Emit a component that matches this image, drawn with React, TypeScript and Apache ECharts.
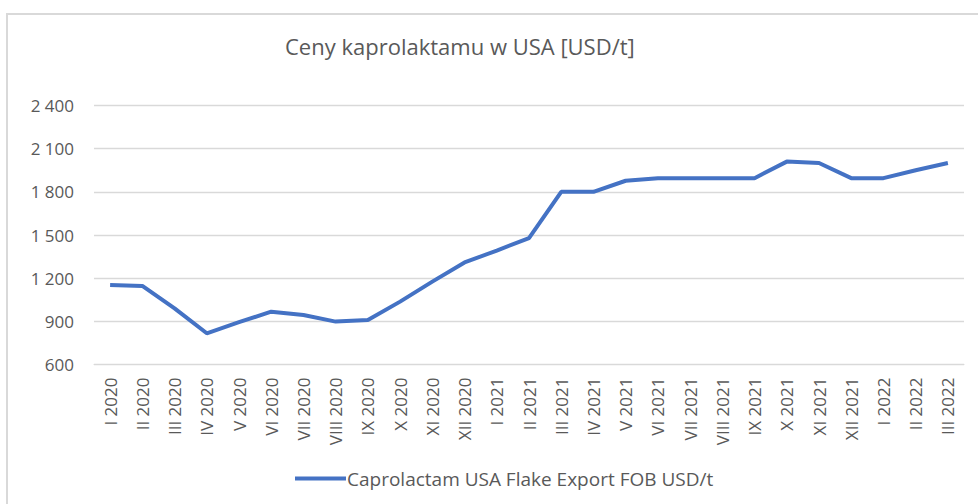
import React, { useEffect, useRef } from "react";
import * as echarts from "echarts";

const categories = [
  "I 2020", "II 2020", "III 2020", "IV 2020", "V 2020", "VI 2020", "VII 2020", "VIII 2020", "IX 2020", "X 2020", "XI 2020", "XII 2020",
  "I 2021", "II 2021", "III 2021", "IV 2021", "V 2021", "VI 2021", "VII 2021", "VIII 2021", "IX 2021", "X 2021", "XI 2021", "XII 2021",
  "I 2022", "II 2022", "III 2022",
];

const prices = [
  1153, 1146, 990, 817, 894, 967, 944, 898, 910, 1037, 1176, 1309,
  1392, 1478, 1800, 1800, 1877, 1895, 1895, 1895, 1895, 2010, 2000, 1895,
  1895, 1950, 2000,
];

const seriesName = "Caprolactam USA Flake Export FOB USD/t";
const titleText = "Ceny kaprolaktamu w USA [USD/t]";

export default function App() {
  const ref = useRef<HTMLDivElement>(null);
  useEffect(() => {
    if (!ref.current) return;
    const chart = echarts.init(ref.current, null, { renderer: "svg" });
    const font = "'Open Sans', 'Noto Sans', sans-serif";
    chart.setOption({
      animation: false,
      backgroundColor: "#ffffff",
      textStyle: { fontFamily: font },
      title: {
        text: titleText,
        left: 280,
        top: 30,
        textStyle: { fontFamily: font, fontSize: 22, fontWeight: "normal", color: "#595959" },
      },
      graphic: [
        {
          type: "rect",
          shape: { x: 7, y: 14, width: 990, height: 520 },
          style: { fill: "none", stroke: "#d9d9d9", lineWidth: 2 },
          silent: true,
        },
      ],
      legend: {
        bottom: 11,
        left: 290,
        itemWidth: 51,
        itemHeight: 4,
        itemGap: 10,
        icon: "rect",
        textStyle: { fontFamily: font, fontSize: 19, color: "#595959", padding: [0, 0, 0, -4] },
        data: [seriesName],
      },
      grid: { left: 94, right: 14, top: 105.5, bottom: 139.5, containLabel: false },
      xAxis: {
        type: "category",
        data: categories,
        boundaryGap: true,
        axisLine: { show: true, lineStyle: { color: "#d9d9d9", width: 1 } },
        axisTick: { show: false },
        axisLabel: { rotate: 90, fontSize: 17, color: "#595959", margin: 13, interval: 0, fontFamily: font },
      },
      yAxis: {
        type: "value",
        min: 600,
        max: 2400,
        interval: 300,
        axisLine: { show: false },
        axisTick: { show: false },
        splitLine: { lineStyle: { color: "#d9d9d9", width: 1.3 } },
        axisLabel: {
          fontSize: 17,
          color: "#595959",
          margin: 20,
          fontFamily: font,
          formatter: (v: number) => String(v).replace(/\B(?=(\d{3})+(?!\d))/g, " "),
        },
      },
      series: [
        {
          name: seriesName,
          type: "line",
          data: prices,
          showSymbol: false,
          symbol: "none",
          lineStyle: { color: "#4472C4", width: 4 },
          itemStyle: { color: "#4472C4" },
        },
      ],
    });
    return () => chart.dispose();
  }, []);
  return <div ref={ref} style={{ position: "fixed", left: 0, top: 0, width: 978, height: 504 }} />;
}
